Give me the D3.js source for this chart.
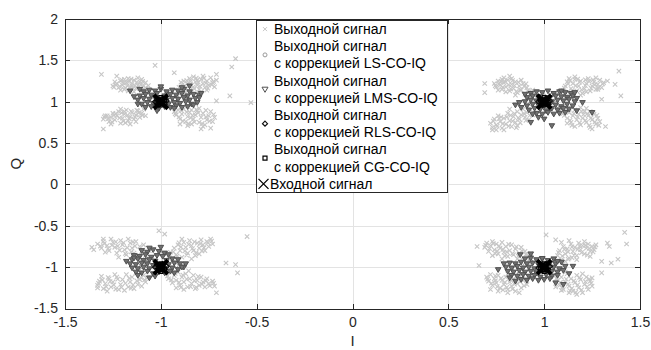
<!DOCTYPE html>
<html><head><meta charset="utf-8">
<script src="https://cdn.jsdelivr.net/npm/d3@7"></script>
<style>html,body{margin:0;padding:0;background:#fff;}svg{display:block;}</style>
</head><body>
<svg id="chart" width="651" height="350"></svg>
<script>
// ---------------- DATA ----------------
const xTicks = [-1.5, -1, -0.5, 0, 0.5, 1, 1.5];
const xTickLabels = ["-1.5", "-1", "-0.5", "0", "0.5", "1", "1.5"];
const yTicks = [-1.5, -1, -0.5, 0, 0.5, 1, 1.5, 2];
const yTickLabels = ["-1.5", "-1", "-0.5", "0", "0.5", "1", "1.5", "2"];
const xLabel = "I";
const yLabel = "Q";
const legendLabels = [
  ["Выходной сигнал"],
  ["Выходной сигнал", "с коррекцией LS-CO-IQ"],
  ["Выходной сигнал", "с коррекцией LMS-CO-IQ"],
  ["Выходной сигнал", "с коррекцией RLS-CO-IQ"],
  ["Выходной сигнал", "с коррекцией CG-CO-IQ"],
  ["Входной сигнал"]
];

// Output signal (no correction), [I, Q]
const outputSignal = [
  // (-1, 1)
  [-1.25,1.19],[-1.23,1.22],[-1.22,1.17],[-1.21,1.25],[-1.20,1.20],[-1.19,1.15],[-1.18,1.23],[-1.17,1.28],[-1.16,1.18],[-1.15,1.22],[-1.14,1.26],[-1.13,1.16],[-1.12,1.20],[-1.11,1.24],[-1.10,1.14],[-1.09,1.19],[-1.08,1.23],[-1.07,1.13],[-1.19,1.27],[-1.14,1.12],[-1.24,1.24],[-1.12,1.29],[-1.17,1.13],[-1.08,1.17],[-1.21,1.14],[-1.15,1.19],[-1.10,1.27],
  [-1.235,1.205],[-1.215,1.185],[-1.195,1.225],[-1.175,1.195],[-1.165,1.245],[-1.145,1.165],[-1.125,1.235],[-1.105,1.205],[-1.085,1.145],[-1.205,1.265],[-1.185,1.165],[-1.155,1.275],[-1.135,1.195],[-1.245,1.175],[-1.095,1.245],[-1.065,1.195],
  [-0.91,1.14],[-0.89,1.20],[-0.88,1.25],[-0.87,1.16],[-0.86,1.22],[-0.85,1.28],[-0.84,1.13],[-0.83,1.18],[-0.82,1.24],[-0.81,1.20],[-0.80,1.15],[-0.79,1.27],[-0.78,1.22],[-0.77,1.17],[-0.76,1.25],[-0.75,1.20],[-0.74,1.29],[-0.73,1.23],[-0.72,1.18],[-0.83,1.30],[-0.79,1.12],[-0.87,1.11],[-0.76,1.14],[-0.71,1.26],[-0.81,1.26],[-0.85,1.19],[-0.78,1.31],
  [-0.905,1.175],[-0.885,1.145],[-0.865,1.255],[-0.845,1.215],[-0.825,1.155],[-0.805,1.235],[-0.795,1.185],[-0.775,1.285],[-0.755,1.165],[-0.735,1.205],[-0.815,1.285],[-0.845,1.245],[-0.875,1.195],[-0.765,1.225],[-0.725,1.245],[-0.895,1.235],
  [-1.30,0.79],[-1.28,0.83],[-1.27,0.76],[-1.26,0.81],[-1.25,0.86],[-1.24,0.78],[-1.23,0.83],[-1.22,0.88],[-1.21,0.74],[-1.20,0.80],[-1.19,0.85],[-1.18,0.90],[-1.17,0.77],[-1.16,0.82],[-1.15,0.87],[-1.14,0.79],[-1.13,0.84],[-1.12,0.89],[-1.11,0.81],[-1.10,0.86],[-1.09,0.91],[-1.08,0.83],[-1.21,0.91],[-1.16,0.73],[-1.26,0.73],[-1.13,0.76],[-1.19,0.88],
  [-1.295,0.815],[-1.275,0.795],[-1.255,0.755],[-1.235,0.855],[-1.215,0.805],[-1.195,0.765],[-1.175,0.835],[-1.155,0.885],[-1.135,0.815],[-1.115,0.865],[-1.095,0.835],[-1.245,0.835],[-1.205,0.865],[-1.165,0.795],[-1.125,0.895],[-1.185,0.745],
  [-0.93,0.88],[-0.92,0.84],[-0.91,0.90],[-0.90,0.79],[-0.89,0.85],[-0.88,0.91],[-0.87,0.76],[-0.86,0.82],[-0.85,0.87],[-0.84,0.73],[-0.83,0.79],[-0.82,0.84],[-0.81,0.89],[-0.80,0.75],[-0.79,0.81],[-0.78,0.86],[-0.77,0.72],[-0.76,0.78],[-0.75,0.83],[-0.74,0.88],[-0.73,0.76],[-0.72,0.81],[-0.86,0.71],[-0.80,0.92],[-0.90,0.73],[-0.78,0.70],[-0.84,0.90],
  [-0.925,0.855],[-0.905,0.815],[-0.885,0.765],[-0.865,0.875],[-0.845,0.805],[-0.825,0.755],[-0.805,0.865],[-0.785,0.735],[-0.765,0.815],[-0.745,0.765],[-0.725,0.845],[-0.855,0.735],[-0.895,0.895],[-0.815,0.905],[-0.765,0.895],[-0.835,0.835],
  [-1.31,1.33],[-1.23,1.31],[-1.03,1.44],[-0.93,1.35],[-0.61,1.52],[-0.63,1.42],[-0.71,1.33],[-0.64,1.07],[-0.71,1.01],[-0.53,0.99],[-1.30,0.67],[-0.79,0.67],[-0.74,0.68],[-1.29,0.83],
  // (1, 1)
  [0.74,1.22],[0.75,1.18],[0.76,1.25],[0.77,1.20],[0.78,1.15],[0.79,1.23],[0.80,1.18],[0.81,1.26],[0.82,1.13],[0.83,1.21],[0.84,1.16],[0.85,1.24],[0.86,1.11],[0.87,1.19],[0.88,1.14],[0.89,1.22],[0.90,1.09],[0.91,1.17],[0.92,1.12],[0.93,1.06],[0.78,1.27],[0.85,1.08],[0.80,1.12],[0.94,1.14],[0.76,1.14],[0.88,1.26],[0.83,1.28],
  [0.745,1.195],[0.765,1.215],[0.785,1.175],[0.795,1.245],[0.815,1.205],[0.825,1.155],[0.845,1.195],[0.865,1.235],[0.875,1.145],[0.895,1.185],[0.915,1.135],[0.905,1.215],[0.775,1.245],[0.835,1.255],[0.855,1.125],[0.935,1.095],
  [1.10,1.13],[1.11,1.19],[1.12,1.24],[1.13,1.10],[1.14,1.16],[1.15,1.22],[1.16,1.27],[1.17,1.13],[1.18,1.19],[1.19,1.25],[1.20,1.10],[1.21,1.16],[1.22,1.22],[1.23,1.28],[1.24,1.13],[1.25,1.19],[1.26,1.24],[1.27,1.15],[1.28,1.21],[1.29,1.26],[1.30,1.17],[1.31,1.23],[1.16,1.30],[1.22,1.12],[1.27,1.29],[1.13,1.28],[1.19,1.08],
  [1.105,1.165],[1.125,1.215],[1.145,1.135],[1.165,1.195],[1.185,1.235],[1.195,1.145],[1.215,1.195],[1.235,1.245],[1.245,1.165],[1.265,1.205],[1.285,1.175],[1.305,1.215],[1.175,1.275],[1.215,1.265],[1.255,1.265],[1.135,1.255],
  [0.72,0.74],[0.73,0.69],[0.74,0.79],[0.75,0.72],[0.76,0.83],[0.77,0.76],[0.78,0.68],[0.79,0.80],[0.80,0.73],[0.81,0.86],[0.82,0.77],[0.83,0.70],[0.84,0.82],[0.85,0.75],[0.86,0.88],[0.87,0.79],[0.88,0.84],[0.89,0.91],[0.90,0.81],[0.91,0.87],[0.92,0.78],[0.93,0.90],[0.79,0.66],[0.75,0.66],[0.86,0.71],[0.82,0.91],[0.94,0.84],
  [0.735,0.765],[0.755,0.705],[0.765,0.795],[0.785,0.735],[0.805,0.815],[0.815,0.705],[0.835,0.765],[0.845,0.855],[0.865,0.805],[0.875,0.745],[0.895,0.855],[0.905,0.775],[0.925,0.835],[0.825,0.835],[0.775,0.815],[0.855,0.685],
  [1.10,0.86],[1.11,0.91],[1.12,0.80],[1.13,0.87],[1.14,0.75],[1.15,0.83],[1.16,0.90],[1.17,0.78],[1.18,0.85],[1.19,0.72],[1.20,0.80],[1.21,0.88],[1.22,0.75],[1.23,0.83],[1.24,0.69],[1.25,0.78],[1.26,0.85],[1.27,0.73],[1.28,0.80],[1.16,0.70],[1.22,0.92],[1.13,0.93],[1.25,0.67],[1.19,0.93],[1.29,0.76],[1.12,0.74],[1.24,0.88],
  [1.105,0.835],[1.125,0.885],[1.135,0.775],[1.155,0.855],[1.175,0.815],[1.185,0.745],[1.205,0.845],[1.215,0.775],[1.235,0.715],[1.245,0.805],[1.265,0.755],[1.275,0.835],[1.145,0.715],[1.195,0.885],[1.225,0.855],[1.285,0.715],
  [0.69,1.22],[0.69,1.11],[0.79,1.29],[0.82,1.31],[1.39,1.37],[1.37,1.21],[1.40,1.07],[1.32,0.70],[0.73,0.66],[1.28,1.15],[1.30,1.03],[1.33,1.25],
  // (-1, -1)
  [-1.33,-0.72],[-1.31,-0.77],[-1.30,-0.69],[-1.28,-0.74],[-1.27,-0.80],[-1.25,-0.70],[-1.24,-0.76],[-1.23,-0.83],[-1.21,-0.68],[-1.20,-0.73],[-1.19,-0.79],[-1.18,-0.85],[-1.16,-0.71],[-1.15,-0.77],[-1.14,-0.83],[-1.12,-0.88],[-1.11,-0.75],[-1.10,-0.81],[-1.08,-0.86],[-1.07,-0.91],[-1.06,-0.80],[-1.26,-0.66],[-1.17,-0.66],[-1.22,-0.88],[-1.13,-0.69],[-1.09,-0.73],[-1.29,-0.82],
  [-1.315,-0.745],[-1.295,-0.715],[-1.275,-0.775],[-1.255,-0.735],[-1.235,-0.695],[-1.215,-0.795],[-1.195,-0.705],[-1.175,-0.765],[-1.155,-0.815],[-1.135,-0.745],[-1.115,-0.855],[-1.095,-0.795],[-1.075,-0.835],[-1.225,-0.745],[-1.185,-0.835],[-1.145,-0.695],
  [-0.96,-0.87],[-0.95,-0.82],[-0.94,-0.90],[-0.93,-0.77],[-0.92,-0.85],[-0.91,-0.73],[-0.90,-0.80],[-0.89,-0.88],[-0.88,-0.70],[-0.87,-0.76],[-0.86,-0.83],[-0.85,-0.68],[-0.84,-0.74],[-0.83,-0.80],[-0.82,-0.86],[-0.81,-0.71],[-0.80,-0.77],[-0.79,-0.67],[-0.78,-0.73],[-0.77,-0.80],[-0.76,-0.69],[-0.75,-0.75],[-0.74,-0.66],[-0.73,-0.72],[-0.89,-0.66],[-0.84,-0.90],[-0.80,-0.84],
  [-0.955,-0.845],[-0.935,-0.815],[-0.915,-0.865],[-0.895,-0.755],[-0.875,-0.805],[-0.855,-0.725],[-0.835,-0.775],[-0.815,-0.825],[-0.795,-0.715],[-0.775,-0.765],[-0.755,-0.705],[-0.735,-0.685],[-0.905,-0.705],[-0.865,-0.855],[-0.825,-0.695],[-0.785,-0.805],
  [-1.33,-1.22],[-1.32,-1.17],[-1.30,-1.26],[-1.29,-1.20],[-1.27,-1.14],[-1.26,-1.24],[-1.25,-1.18],[-1.23,-1.12],[-1.22,-1.27],[-1.21,-1.21],[-1.20,-1.15],[-1.18,-1.09],[-1.17,-1.24],[-1.16,-1.18],[-1.15,-1.12],[-1.13,-1.07],[-1.12,-1.21],[-1.11,-1.15],[-1.09,-1.10],[-1.08,-1.18],[-1.07,-1.13],[-1.28,-1.29],[-1.19,-1.28],[-1.24,-1.09],[-1.14,-1.26],[-1.10,-1.23],[-1.31,-1.11],
  [-1.325,-1.195],[-1.305,-1.155],[-1.285,-1.235],[-1.265,-1.175],[-1.245,-1.215],[-1.225,-1.145],[-1.205,-1.245],[-1.185,-1.195],[-1.165,-1.135],[-1.145,-1.215],[-1.125,-1.165],[-1.105,-1.125],[-1.085,-1.155],[-1.235,-1.265],[-1.155,-1.255],[-1.275,-1.125],
  [-0.97,-1.08],[-0.96,-1.14],[-0.95,-1.04],[-0.94,-1.19],[-0.93,-1.10],[-0.92,-1.16],[-0.91,-1.06],[-0.90,-1.22],[-0.89,-1.12],[-0.88,-1.18],[-0.87,-1.08],[-0.86,-1.24],[-0.85,-1.14],[-0.84,-1.20],[-0.83,-1.10],[-0.82,-1.26],[-0.81,-1.16],[-0.80,-1.22],[-0.79,-1.12],[-0.78,-1.18],[-0.77,-1.24],[-0.76,-1.14],[-0.75,-1.20],[-0.73,-1.17],[-0.72,-1.23],[-0.88,-1.27],[-0.92,-1.25],
  [-0.965,-1.105],[-0.945,-1.155],[-0.925,-1.075],[-0.905,-1.185],[-0.885,-1.095],[-0.865,-1.145],[-0.845,-1.235],[-0.825,-1.165],[-0.805,-1.115],[-0.785,-1.205],[-0.765,-1.165],[-0.745,-1.225],[-0.725,-1.195],[-0.895,-1.245],[-0.855,-1.045],[-0.815,-1.245],
  [-1.35,-0.79],[-0.55,-0.63],[-0.66,-0.95],[-0.61,-0.97],[-0.60,-1.07],[-0.71,-1.31],[-1.01,-0.56],[-0.98,-0.60],[-1.36,-0.76],[-1.33,-1.25],[-1.30,-0.66],
  // (1, -1)
  [0.69,-0.76],[0.70,-0.71],[0.71,-0.81],[0.72,-0.74],[0.73,-0.69],[0.74,-0.79],[0.75,-0.72],[0.76,-0.84],[0.77,-0.77],[0.78,-0.70],[0.79,-0.82],[0.80,-0.75],[0.81,-0.87],[0.82,-0.80],[0.83,-0.73],[0.84,-0.85],[0.85,-0.78],[0.86,-0.90],[0.87,-0.83],[0.88,-0.76],[0.89,-0.88],[0.90,-0.81],[0.91,-0.86],[0.92,-0.91],[0.93,-0.84],[0.78,-0.90],[0.73,-0.86],
  [0.695,-0.735],[0.715,-0.775],[0.735,-0.715],[0.755,-0.805],[0.765,-0.745],[0.785,-0.785],[0.805,-0.815],[0.815,-0.725],[0.835,-0.835],[0.855,-0.755],[0.865,-0.865],[0.885,-0.805],[0.905,-0.845],[0.925,-0.875],[0.795,-0.865],[0.745,-0.835],
  [1.07,-0.86],[1.08,-0.80],[1.09,-0.91],[1.10,-0.75],[1.11,-0.84],[1.12,-0.78],[1.13,-0.89],[1.14,-0.72],[1.15,-0.81],[1.16,-0.76],[1.17,-0.86],[1.18,-0.71],[1.19,-0.79],[1.20,-0.74],[1.21,-0.84],[1.22,-0.77],[1.23,-0.72],[1.24,-0.81],[1.25,-0.75],[1.26,-0.79],[1.27,-0.73],[1.11,-0.93],[1.17,-0.91],[1.21,-0.69],[1.13,-0.68],[1.24,-0.87],[1.09,-0.70],
  [1.075,-0.825],[1.095,-0.865],[1.105,-0.785],[1.125,-0.815],[1.145,-0.755],[1.155,-0.855],[1.175,-0.785],[1.195,-0.825],[1.215,-0.735],[1.235,-0.775],[1.255,-0.815],[1.265,-0.755],[1.125,-0.905],[1.185,-0.745],[1.145,-0.885],[1.225,-0.855],
  [0.70,-1.12],[0.71,-1.17],[0.72,-1.09],[0.73,-1.22],[0.74,-1.14],[0.75,-1.19],[0.76,-1.10],[0.77,-1.25],[0.78,-1.16],[0.79,-1.21],[0.80,-1.12],[0.81,-1.27],[0.82,-1.18],[0.83,-1.23],[0.84,-1.14],[0.85,-1.29],[0.86,-1.20],[0.87,-1.10],[0.88,-1.25],[0.89,-1.16],[0.90,-1.07],[0.91,-1.21],[0.92,-1.12],[0.76,-1.29],[0.72,-1.27],[0.87,-1.31],[0.81,-1.08],
  [0.705,-1.145],[0.725,-1.195],[0.745,-1.165],[0.755,-1.235],[0.775,-1.135],[0.795,-1.185],[0.805,-1.245],[0.825,-1.155],[0.845,-1.205],[0.855,-1.115],[0.875,-1.175],[0.895,-1.225],[0.905,-1.135],[0.835,-1.265],[0.785,-1.275],[0.745,-1.105],
  [1.06,-1.10],[1.07,-1.16],[1.08,-1.22],[1.09,-1.12],[1.10,-1.27],[1.11,-1.18],[1.12,-1.08],[1.13,-1.23],[1.14,-1.14],[1.15,-1.29],[1.16,-1.19],[1.17,-1.10],[1.18,-1.25],[1.19,-1.15],[1.20,-1.31],[1.21,-1.21],[1.22,-1.12],[1.23,-1.27],[1.24,-1.17],[1.25,-1.23],[1.13,-1.31],[1.09,-1.28],[1.20,-1.08],[1.25,-1.13],[1.06,-1.24],[1.17,-1.33],[1.11,-1.06],
  [1.065,-1.135],[1.085,-1.185],[1.095,-1.245],[1.115,-1.145],[1.125,-1.205],[1.145,-1.255],[1.155,-1.165],[1.175,-1.215],[1.185,-1.125],[1.195,-1.275],[1.215,-1.175],[1.225,-1.235],[1.235,-1.145],[1.245,-1.195],[1.135,-1.285],[1.165,-1.305],
  [0.65,-0.75],[1.01,-0.61],[1.06,-0.67],[1.33,-0.71],[1.34,-0.75],[1.30,-0.93],[1.35,-0.95],[1.30,-1.07],[1.42,-0.58],[0.81,-1.31],[1.385,-0.905],[1.43,-0.72],[0.66,-0.98]
];

// LS-CO-IQ corrected
const lsSignal = [
  [-1.05,1.06],[-0.95,1.02],[-0.90,1.07],[-1.08,0.98],[-0.86,1.03],[-0.97,1.10],[-1.02,0.95],[-0.92,0.96],
  [0.95,1.04],[1.06,0.98],[1.10,1.04],[0.98,0.93],[1.04,1.08],[0.93,0.98],[1.08,0.92],[1.00,1.07],
  [-1.08,-0.94],[-0.97,-0.99],[-1.12,-0.98],[-1.03,-0.88],[-0.95,-1.04],[-1.10,-1.04],[-1.00,-0.84],[-0.92,-0.98],
  [0.90,-0.98],[0.97,-1.03],[1.06,-1.03],[0.87,-1.08],[0.93,-0.93],[1.02,-1.07],[0.85,-1.02],[0.99,-0.96]
];

// LMS-CO-IQ corrected
const lmsSignal = [
  // (-1, 1)
  [-1.09,1.12],[-1.06,1.14],[-1.03,1.13],[-1.00,1.15],[-0.97,1.12],[-0.94,1.14],[-0.91,1.13],[-0.88,1.15],[-0.85,1.12],
  [-1.11,1.07],[-1.08,1.09],[-1.05,1.08],[-1.02,1.10],[-0.98,1.07],[-0.95,1.09],[-0.92,1.08],[-0.89,1.10],[-0.86,1.07],[-0.83,1.09],[-0.80,1.08],
  [-1.12,1.02],[-1.09,1.04],[-1.06,1.03],[-1.03,1.05],[-0.97,1.02],[-0.94,1.04],[-0.91,1.03],[-0.88,1.05],[-0.85,1.02],[-0.82,1.04],
  [-1.10,0.97],[-1.07,0.99],[-1.04,0.98],[-0.96,0.97],[-0.93,0.99],[-0.90,0.98],[-0.87,1.00],[-0.84,0.97],[-0.81,0.99],
  [-1.08,0.93],[-1.05,0.94],[-1.01,0.92],[-0.98,0.94],[-0.95,0.93],[-0.92,0.95],[-0.89,0.93],[-0.86,0.94],
  [-1.16,1.13],[-1.11,1.15],[-1.00,1.18],[-0.89,1.17],[-0.85,1.19],[-0.80,1.05],[-0.79,1.10],[-1.12,0.97],[-1.02,0.89],[-0.93,0.92],[-1.14,1.06],[-0.83,0.96],
  // (1, 1)
  [0.93,1.10],[0.96,1.12],[0.99,1.11],[1.02,1.13],[1.05,1.10],[1.08,1.12],[1.11,1.11],[1.14,1.10],
  [0.91,1.05],[0.94,1.07],[0.97,1.06],[1.03,1.05],[1.06,1.07],[1.09,1.06],[1.12,1.05],[1.15,1.07],[1.17,1.04],
  [0.90,1.00],[0.93,1.02],[0.96,1.01],[1.04,1.00],[1.07,1.02],[1.10,1.01],[1.13,1.03],[1.16,1.00],
  [0.91,0.95],[0.94,0.97],[0.97,0.96],[1.00,0.95],[1.03,0.97],[1.06,0.96],[1.09,0.94],[1.12,0.97],[1.15,0.95],
  [0.92,0.90],[0.95,0.92],[0.98,0.91],[1.01,0.89],[1.04,0.92],[1.07,0.90],[1.10,0.92],[1.13,0.91],
  [0.96,0.86],[0.99,0.85],[1.02,0.87],[1.05,0.85],[1.08,0.86],[1.11,0.87],
  [0.85,0.96],[0.87,0.99],[0.90,1.09],[0.93,0.75],[1.04,0.71],[0.97,0.81],[1.09,1.13],[1.16,1.11],[1.25,0.87],[1.17,0.89],[0.94,0.85],[0.88,0.93],[1.00,0.79],[1.20,0.99],
  // (-1, -1)
  [-1.10,-0.80],[-1.07,-0.82],[-1.04,-0.79],[-1.01,-0.81],[-0.98,-0.83],
  [-1.14,-0.86],[-1.11,-0.87],[-1.08,-0.85],[-1.05,-0.88],[-1.02,-0.86],[-0.99,-0.87],[-0.96,-0.85],
  [-1.15,-0.91],[-1.12,-0.90],[-1.09,-0.92],[-1.06,-0.91],[-1.03,-0.93],[-0.97,-0.92],[-0.94,-0.90],[-0.91,-0.91],
  [-1.16,-0.96],[-1.13,-0.97],[-1.10,-0.95],[-1.07,-0.96],[-1.04,-0.98],[-0.96,-0.97],[-0.93,-0.95],[-0.90,-0.96],
  [-1.15,-1.01],[-1.12,-1.02],[-1.09,-1.00],[-1.06,-1.02],[-0.94,-1.01],[-0.91,-1.03],[-0.88,-1.00],
  [-1.13,-1.06],[-1.10,-1.07],[-1.07,-1.05],[-1.04,-1.08],[-1.01,-1.06],[-0.98,-1.07],[-0.95,-1.05],
  [-1.06,-0.77],[-1.14,-0.89],[-0.89,-1.00],[-1.06,-1.13],[-0.93,-1.07],[-1.18,-0.93],[-1.00,-0.76],[-1.12,-1.10],[-0.87,-0.96],[-1.03,-1.11],
  // (1, -1)
  [0.90,-0.90],[0.93,-0.89],[0.96,-0.91],[0.99,-0.90],[1.02,-0.92],[1.05,-0.90],
  [0.82,-0.95],[0.85,-0.96],[0.88,-0.94],[0.91,-0.96],[0.94,-0.95],[0.97,-0.97],[1.03,-0.95],[1.06,-0.96],[1.09,-0.94],
  [0.80,-1.00],[0.83,-1.01],[0.86,-0.99],[0.89,-1.01],[0.92,-1.00],[0.95,-1.02],[1.05,-1.00],[1.08,-1.02],[1.11,-0.99],
  [0.81,-1.05],[0.84,-1.06],[0.87,-1.04],[0.90,-1.06],[0.93,-1.05],[0.96,-1.07],[1.04,-1.05],[1.07,-1.06],[1.10,-1.04],
  [0.83,-1.10],[0.86,-1.11],[0.89,-1.09],[0.92,-1.11],[0.95,-1.10],[0.98,-1.12],[1.01,-1.09],[1.04,-1.11],[1.07,-1.10],
  [0.88,-1.15],[0.91,-1.16],[0.94,-1.14],[0.97,-1.16],[1.00,-1.15],[1.03,-1.14],
  [0.875,-0.85],[0.93,-0.84],[0.76,-1.03],[0.85,-1.17],[1.07,-0.93],[1.15,-0.99],[1.10,-1.21],[1.06,-1.19],[0.99,-0.895],[0.79,-0.96],[0.82,-1.13],[1.13,-1.08]
];

// RLS-CO-IQ corrected
const rlsSignal = [
  [-1.02,1.03],[-0.98,0.97],[-1.01,0.96],[-0.99,1.04],[-1.03,1.00],[-0.97,1.01],
  [0.98,1.03],[1.02,0.97],[0.99,0.96],[1.01,1.04],[0.97,1.00],[1.03,1.01],
  [-1.02,-0.97],[-0.98,-1.03],[-1.01,-1.04],[-0.99,-0.96],[-1.03,-1.00],[-0.97,-0.99],
  [0.98,-0.97],[1.02,-1.03],[0.99,-1.04],[1.01,-0.96],[0.97,-1.01],[1.03,-0.99]
];

// CG-CO-IQ corrected
const cgSignal = [
  [-1.01,1.02],[-0.99,0.98],[-1.00,1.03],[-1.01,0.97],[-0.99,1.01],[-1.02,0.99],[-0.98,1.02],[-1.00,0.96],[-1.00,1.05],
  [1.01,1.02],[0.99,0.98],[1.00,1.03],[1.01,0.97],[0.99,1.01],[1.02,0.99],[0.98,1.02],[1.00,0.96],[1.00,1.05],
  [-1.01,-1.02],[-0.99,-0.98],[-1.00,-1.03],[-1.01,-0.97],[-0.99,-1.01],[-1.02,-0.99],[-0.98,-1.02],[-1.00,-0.96],[-1.00,-1.05],
  [1.01,-1.02],[0.99,-0.98],[1.00,-1.03],[1.01,-0.97],[0.99,-1.01],[1.02,-0.99],[0.98,-1.02],[1.00,-0.96],[1.00,-1.05]
];

// Input signal
const inputSignal = [[-1,1],[1,1],[-1,-1],[1,-1]];

// ---------------- DRAW ----------------
const W = 651, H = 350;
const plot = {left: 65, right: 640, top: 19, bottom: 308.5};
const FONT = "'Liberation Sans', Arial, Helvetica, sans-serif";
const AX = "#262626";

const svg = d3.select("#chart");
svg.append("rect").attr("width", W).attr("height", H).attr("fill", "#fff");

const x = d3.scaleLinear().domain([-1.5, 1.5]).range([plot.left, plot.right]);
const y = d3.scaleLinear().domain([-1.5, 2]).range([plot.bottom, plot.top]);

// grid
const grid = svg.append("g").attr("stroke", "#e3e3e3").attr("stroke-width", 1).attr("shape-rendering", "crispEdges");
grid.selectAll(".gx").data(xTicks.slice(1, -1)).join("line")
  .attr("x1", d => Math.round(x(d)) + 0.5).attr("x2", d => Math.round(x(d)) + 0.5)
  .attr("y1", plot.top).attr("y2", plot.bottom);
grid.selectAll(".gy").data(yTicks.slice(1, -1)).join("line")
  .attr("y1", d => Math.round(y(d)) + 0.5).attr("y2", d => Math.round(y(d)) + 0.5)
  .attr("x1", plot.left).attr("x2", plot.right);

// marker paths
const P = {
  x: s => `M${-s},${-s}L${s},${s}M${-s},${s}L${s},${-s}`,
  tri: s => `M${-s},${-s*0.7}L${s},${-s*0.7}L0,${s}Z`,
  dia: s => `M0,${-s}L${s},0L0,${s}L${-s},0Z`,
  sq: s => `M${-s},${-s}H${s}V${s}H${-s}Z`,
  circ: s => `M${s},0A${s},${s} 0 1,1 ${-s},0A${s},${s} 0 1,1 ${s},0Z`
};

function drawSeries(data, path, color, sw, fill) {
  svg.append("g").selectAll("path").data(data).join("path")
    .attr("transform", d => `translate(${x(d[0])},${y(d[1])})`)
    .attr("d", path)
    .attr("fill", fill || "none")
    .attr("stroke", color)
    .attr("stroke-width", sw);
}

drawSeries(outputSignal, P.x(2.2), "#c6c6c6", 1.1);
drawSeries(lsSignal, P.circ(2), "#9a9a9a", 1);
drawSeries(lmsSignal, P.tri(2.8), "#505050", 1, "#707070");
drawSeries(rlsSignal, P.dia(2.5), "#111", 1.2);
drawSeries(cgSignal, P.sq(2), "#000", 1.2);
drawSeries(inputSignal, P.x(7), "#000", 4);

// axes
const fmtX = (d) => xTickLabels[xTicks.indexOf(d)];
const fmtY = (d) => yTickLabels[yTicks.indexOf(d)];
function styleAxis(g) {
  g.attr("font-family", FONT).attr("font-size", 14);
  g.selectAll("path.domain").attr("stroke", AX).attr("shape-rendering", "crispEdges");
  g.selectAll(".tick line").attr("stroke", AX).attr("shape-rendering", "crispEdges");
  g.selectAll(".tick text").attr("fill", AX);
}
svg.append("g").attr("transform", `translate(0,${plot.bottom})`)
  .call(d3.axisBottom(x).tickValues(xTicks).tickFormat(fmtX).tickSizeInner(-5).tickSizeOuter(0).tickPadding(9))
  .call(styleAxis);
svg.append("g").attr("transform", `translate(${plot.left},0)`)
  .call(d3.axisLeft(y).tickValues(yTicks).tickFormat(fmtY).tickSizeInner(-5).tickSizeOuter(0).tickPadding(7))
  .call(styleAxis);
svg.append("g").attr("transform", `translate(0,${plot.top})`)
  .call(d3.axisTop(x).tickValues(xTicks).tickFormat("").tickSizeInner(-5).tickSizeOuter(0))
  .call(styleAxis);
svg.append("g").attr("transform", `translate(${plot.right},0)`)
  .call(d3.axisRight(y).tickValues(yTicks).tickFormat("").tickSizeInner(-5).tickSizeOuter(0))
  .call(styleAxis);

// axis labels
svg.append("text").attr("x", (plot.left + plot.right) / 2).attr("y", 346)
  .attr("text-anchor", "middle").attr("font-family", FONT).attr("font-size", 15).attr("fill", AX).text(xLabel);
svg.append("text").attr("transform", `translate(21,${(plot.top + plot.bottom) / 2}) rotate(-90)`)
  .attr("text-anchor", "middle").attr("font-family", FONT).attr("font-size", 15).attr("fill", AX).text(yLabel);

// legend
const lg = {x0: 256.5, x1: 447.5, y0: 20.5, lineH: 17.2};
const nLines = d3.sum(legendLabels, d => d.length);
const leg = svg.append("g");
leg.append("rect").attr("x", lg.x0).attr("y", lg.y0).attr("width", lg.x1 - lg.x0)
  .attr("height", nLines * lg.lineH).attr("fill", "#fff").attr("stroke", AX).attr("stroke-width", 1);
const legendMarkers = [
  {p: P.x(2), c: "#c6c6c6", sw: 1},
  {p: P.circ(2), c: "#9a9a9a", sw: 1},
  {p: P.tri(3), c: "#505050", sw: 1},
  {p: P.dia(2.5), c: "#111", sw: 1.2},
  {p: P.sq(2), c: "#000", sw: 1.2},
  {p: P.x(5), c: "#000", sw: 1.3}
];
let line = 0;
legendLabels.forEach((lines, i) => {
  const cy = lg.y0 + lg.lineH * (line + lines.length / 2);
  const isInput = i === legendLabels.length - 1;
  leg.append("path").attr("transform", `translate(${isInput ? 263.5 : 265},${cy})`)
    .attr("d", legendMarkers[i].p).attr("fill", "none")
    .attr("stroke", legendMarkers[i].c).attr("stroke-width", legendMarkers[i].sw);
  lines.forEach((t, j) => {
    leg.append("text").attr("x", isInput ? 270 : 274)
      .attr("y", lg.y0 + lg.lineH * (line + j + 0.5)).attr("dy", "0.35em")
      .attr("font-family", FONT).attr("font-size", 14).attr("fill", "#000").text(t);
  });
  line += lines.length;
});
</script>
</body></html>
